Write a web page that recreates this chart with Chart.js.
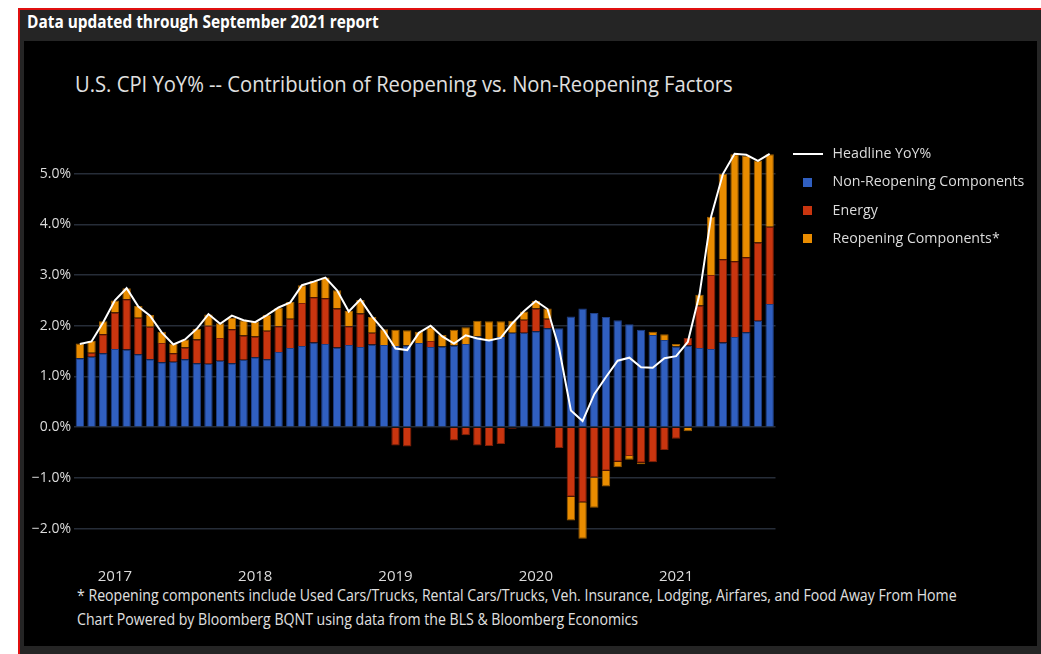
<!DOCTYPE html>
<html>
<head>
<meta charset="utf-8">
<script src="https://cdn.jsdelivr.net/npm/chart.js@4.4.1/dist/chart.umd.min.js"></script>
<style>
  html, body { margin: 0; padding: 0; width: 1041px; height: 654px; overflow: hidden; background: #fff; font-family: "Open Sans", sans-serif; }
  #frame { position: absolute; left: 18px; top: 8px; width: 1023px; height: 646px; background: #252525; border-top: 2px solid #e01010; border-left: 2px solid #e01010; box-sizing: border-box; }
  #panel { position: absolute; left: 24px; top: 41px; width: 1013px; height: 605px; background: #000; }
  #head { position: absolute; left: 27px; top: 11px; line-height: 22px; color: #fff; font-weight: bold; font-size: 17px; white-space: nowrap; transform: scaleX(0.906); transform-origin: 0 0; }
  #title { position: absolute; left: 75px; top: 68px; line-height: 30px; color: #e0e0e0; font-size: 22px; white-space: nowrap; transform: scaleX(0.918); transform-origin: 0 0; }
  .note { position: absolute; left: 77px; line-height: 20px; color: #e0e0e0; font-size: 16px; white-space: nowrap; transform: scaleX(0.882); transform-origin: 0 0; }
  #wrap { position: absolute; left: 0; top: 0; width: 1041px; height: 654px; }
</style>
</head>
<body>
<div id="frame"></div>
<div id="panel"></div>
<div id="head">Data updated through September 2021 report</div>
<div id="title">U.S. CPI YoY% -- Contribution of Reopening vs. Non-Reopening Factors</div>
<div class="note" style="top:585px">* Reopening components include Used Cars/Trucks, Rental Cars/Trucks, Veh. Insurance, Lodging, Airfares, and Food Away From Home</div>
<div class="note" style="top:609px">Chart Powered by Bloomberg BQNT using data from the BLS &amp; Bloomberg Economics</div>
<div id="wrap"><canvas id="chart"></canvas></div>
<script>
// monthly, Oct 2016 .. Sep 2021
const months = [
  '2016-10','2016-11','2016-12',
  '2017-01','2017-02','2017-03','2017-04','2017-05','2017-06','2017-07','2017-08','2017-09','2017-10','2017-11','2017-12',
  '2018-01','2018-02','2018-03','2018-04','2018-05','2018-06','2018-07','2018-08','2018-09','2018-10','2018-11','2018-12',
  '2019-01','2019-02','2019-03','2019-04','2019-05','2019-06','2019-07','2019-08','2019-09','2019-10','2019-11','2019-12',
  '2020-01','2020-02','2020-03','2020-04','2020-05','2020-06','2020-07','2020-08','2020-09','2020-10','2020-11','2020-12',
  '2021-01','2021-02','2021-03','2021-04','2021-05','2021-06','2021-07','2021-08','2021-09'
];

const headline = [
  1.64, 1.69, 2.07,
  2.50, 2.74, 2.38, 2.20, 1.87, 1.63, 1.73, 1.94, 2.23, 2.04, 2.20, 2.11,
  2.07, 2.21, 2.36, 2.46, 2.80, 2.87, 2.95, 2.70, 2.28, 2.52, 2.18, 1.91,
  1.55, 1.52, 1.86, 2.00, 1.79, 1.65, 1.81, 1.75, 1.71, 1.76, 2.05, 2.29,
  2.49, 2.33, 1.54, 0.33, 0.12, 0.65, 0.99, 1.31, 1.37, 1.18, 1.17, 1.36,
  1.40, 1.68, 2.62, 4.16, 4.99, 5.39, 5.37, 5.25, 5.39
];

const nonReopening = [
  1.36, 1.39, 1.46,
  1.54, 1.53, 1.44, 1.34, 1.28, 1.29, 1.34, 1.26, 1.25, 1.31, 1.26, 1.33,
  1.38, 1.34, 1.48, 1.56, 1.60, 1.67, 1.64, 1.57, 1.62, 1.58, 1.63, 1.62,
  1.60, 1.61, 1.66, 1.58, 1.59, 1.61, 1.64, 1.79, 1.72, 1.78, 1.86, 1.86,
  1.89, 1.95, 1.95, 2.18, 2.34, 2.25, 2.17, 2.11, 2.03, 1.92, 1.82, 1.72,
  1.59, 1.61, 1.56, 1.54, 1.67, 1.78, 1.87, 2.10, 2.43
];

const energy = [
  0.00, 0.08, 0.37,
  0.72, 0.99, 0.72, 0.64, 0.38, 0.17, 0.23, 0.47, 0.75, 0.45, 0.67, 0.48,
  0.41, 0.56, 0.51, 0.58, 0.85, 0.89, 0.90, 0.77, 0.37, 0.66, 0.23, -0.02,
  -0.36, -0.38, -0.02, 0.12, -0.02, -0.26, -0.16, -0.36, -0.37, -0.33, -0.03, 0.26,
  0.45, 0.19, -0.41, -1.37, -1.48, -0.99, -0.86, -0.68, -0.57, -0.70, -0.69, -0.45,
  -0.23, 0.15, 0.84, 1.46, 1.64, 1.49, 1.48, 1.54, 1.52
];

const reopening = [
  0.29, 0.23, 0.26,
  0.24, 0.22, 0.23, 0.23, 0.22, 0.19, 0.16, 0.21, 0.22, 0.29, 0.23, 0.30,
  0.29, 0.31, 0.36, 0.33, 0.35, 0.32, 0.41, 0.36, 0.30, 0.27, 0.31, 0.31,
  0.32, 0.30, 0.22, 0.27, 0.23, 0.31, 0.33, 0.31, 0.37, 0.31, 0.24, 0.16,
  0.15, 0.20, 0.00, -0.47, -0.72, -0.60, -0.31, -0.11, -0.07, -0.03, 0.06, 0.11,
  0.05, -0.08, 0.21, 1.15, 1.68, 2.11, 2.00, 1.62, 1.43
];

const yTicks = [-2, -1, 0, 1, 2, 3, 4, 5];

const colors = {
  blue: '#305fc0',
  red: '#c9350f',
  orange: '#e98c00',
  grid: '#262d38',
  text: '#dcdcdc'
};

// legend icons: a line for the headline, small squares for the bars
function icon(w, h, color) {
  const c = document.createElement('canvas');
  c.width = w; c.height = h;
  const g = c.getContext('2d');
  g.fillStyle = color;
  g.fillRect(0, 0, w, h);
  return c;
}
const icons = [icon(30, 2, '#fff'), icon(9, 9, colors.blue), icon(9, 9, colors.red), icon(9, 9, colors.orange)];

const barBase = { type: 'bar', order: 1, stack: 'cpi', borderWidth: 1, barPercentage: 0.72, categoryPercentage: 1 };

new Chart(document.getElementById('chart'), {
  data: {
    labels: months,
    datasets: [
      { type: 'line', label: 'Headline YoY%', data: headline, order: 0, stack: 'line',
        borderColor: '#fff', backgroundColor: '#fff', borderWidth: 2, pointRadius: 0, tension: 0 },
      { ...barBase, label: 'Non-Reopening Components', data: nonReopening, backgroundColor: colors.blue, borderColor: '#1f3f85' },
      { ...barBase, label: 'Energy', data: energy, backgroundColor: colors.red, borderColor: '#7e2008' },
      { ...barBase, label: 'Reopening Components*', data: reopening, backgroundColor: colors.orange, borderColor: '#9a5c00' }
    ]
  },
  options: {
    responsive: true,
    maintainAspectRatio: false,
    animation: false,
    layout: { padding: { left: 0, right: 7, top: 133, bottom: 60 } },
    plugins: {
      tooltip: { enabled: false },
      legend: {
        position: 'right',
        align: 'start',
        labels: {
          usePointStyle: true,
          pointStyleWidth: 36,
          padding: 14,
          color: colors.text,
          font: { family: 'Open Sans', size: 14.2 },
          generateLabels(chart) {
            const items = Chart.defaults.plugins.legend.labels.generateLabels(chart);
            items.forEach(it => { it.pointStyle = icons[it.datasetIndex]; });
            return items;
          }
        }
      }
    },
    scales: {
      x: {
        stacked: true,
        grid: { display: false },
        border: { display: false },
        afterFit(scale) { scale.height = 40; },
        ticks: {
          autoSkip: false,
          maxRotation: 0,
          padding: 6,
          color: colors.text,
          font: { family: 'Open Sans', size: 15 },
          callback(v) {
            const m = months[v];
            return m.endsWith('-01') ? m.slice(0, 4) : '';
          }
        }
      },
      y: {
        stacked: true,
        min: -2.5,
        max: 5.8,
        afterFit(scale) { scale.width = 74; },
        afterBuildTicks(scale) { scale.ticks = yTicks.map(v => ({ value: v })); },
        grid: { color: colors.grid, lineWidth: 1.5, drawTicks: false },
        border: { display: false },
        ticks: {
          padding: 3,
          color: colors.text,
          font: { family: 'Open Sans', size: 14 },
          callback(v) { return (v < 0 ? '\u2212' : '') + Math.abs(v).toFixed(1) + '%'; }
        }
      }
    }
  }
});
</script>
</body>
</html>
